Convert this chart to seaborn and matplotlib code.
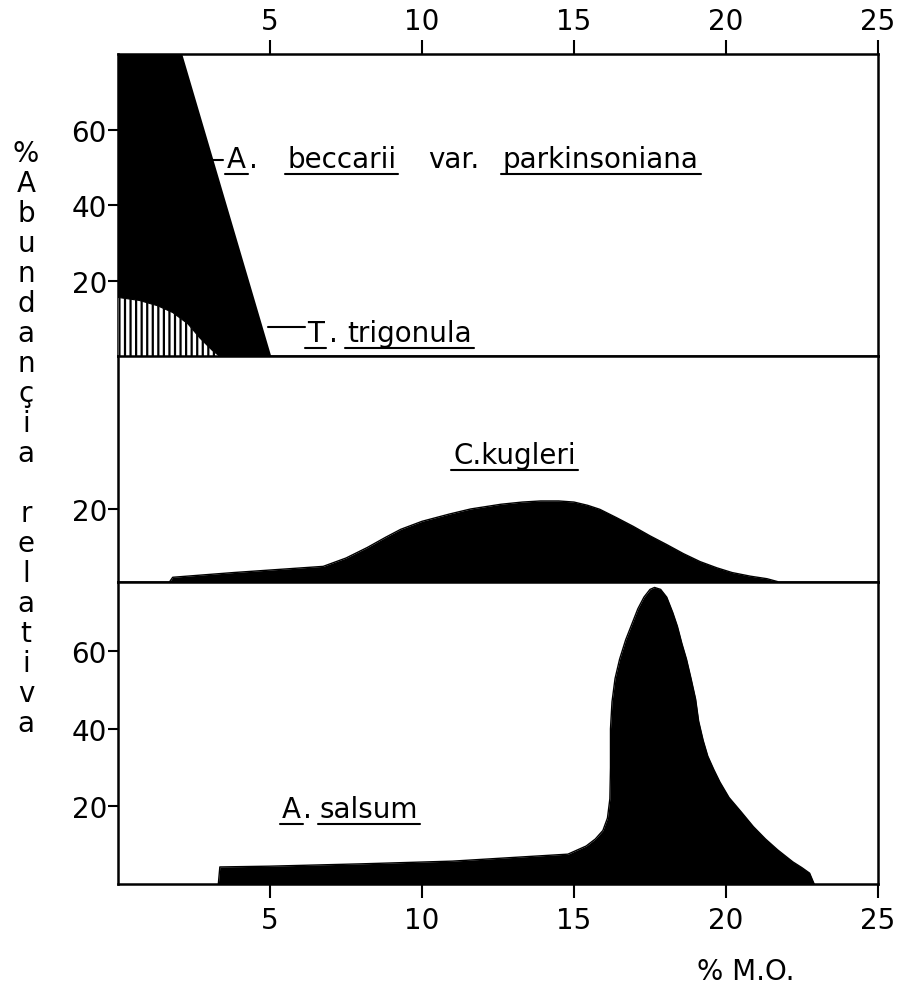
import matplotlib
matplotlib.use("Agg")
import matplotlib.pyplot as plt
from matplotlib.lines import Line2D
import seaborn as sns

sns.set_style("ticks", {'text.color': 'black', 'axes.labelcolor': 'black',
                        'xtick.color': 'black', 'ytick.color': 'black',
                        'axes.edgecolor': 'black'})
plt.rcParams['font.family'] = ['DejaVu Sans']
plt.rcParams['hatch.linewidth'] = 1.6

# A. beccarii var. parkinsoniana (top panel, runs off the top of the frame)
becc_x = [0.0, 2.1, 5.03]
becc_y = [80.0, 80.0, 0.0]

# T. trigonula (hatched, top panel)
trig_x = [0.0, 0.7, 1.3, 1.8, 2.3, 2.7, 3.1, 3.35]
trig_y = [15.6, 14.8, 13.4, 11.6, 8.6, 4.8, 1.6, 0.0]

# C. kugleri (middle panel)
kug_x = [1.7, 1.8, 3.8, 6.75, 7.5, 8.2, 8.8, 9.3, 10.0, 10.9, 11.6, 12.6,
         13.3, 13.9, 14.5, 15.0, 15.45, 15.85, 16.4, 16.95, 17.5, 18.05,
         18.6, 19.15, 19.7, 20.2, 20.8, 21.35, 21.7]
kug_y = [0.0, 1.2, 2.5, 4.2, 6.5, 9.4, 12.2, 14.4, 16.6, 18.6, 20.0, 21.3,
         21.9, 22.2, 22.2, 21.9, 21.0, 19.9, 17.6, 15.2, 12.6, 10.2,
         7.7, 5.5, 3.8, 2.5, 1.5, 0.8, 0.0]

# A. salsum (bottom panel)
sal_x = [3.3, 3.35, 5.0, 8.0, 11.0, 14.8, 15.4, 15.7, 15.95, 16.1, 16.18,
         16.2, 16.2, 16.25, 16.35, 16.5, 16.7, 16.9, 17.1, 17.3, 17.5, 17.65,
         17.85, 18.05, 18.25, 18.4, 18.55, 18.7, 18.85, 19.0, 19.1, 19.25,
         19.4, 19.6, 19.8, 20.1, 20.5, 20.9, 21.3, 21.7, 22.2, 22.5, 22.75,
         22.9]
sal_y = [0.0, 4.4, 4.6, 5.2, 5.9, 7.7, 9.8, 11.6, 13.8, 17.0, 22.0,
         30.0, 40.0, 47.0, 53.0, 58.0, 63.0, 67.0, 71.0, 74.0, 76.0, 76.5,
         76.0, 74.0, 70.0, 66.5, 62.0, 58.0, 53.0, 47.7, 42.0, 37.0,
         33.0, 29.5, 26.3, 22.3, 18.6, 14.8, 11.6, 8.8, 5.7, 4.2, 2.8,
         0.0]

x_ticks = [5, 10, 15, 20, 25]
x_ticklabels = ['5', '10', '15', '20', '25']
ylabel_chars = list("%Abundançia") + [' '] + list("relativa")

FS = 20

fig = plt.figure(figsize=(9.03, 9.87), dpi=100)
gs = fig.add_gridspec(3, 1, height_ratios=[302, 225, 302], hspace=0,
                      left=118 / 903, right=878 / 903,
                      top=1 - 55 / 987, bottom=1 - 885 / 987)
ax_top = fig.add_subplot(gs[0])
ax_mid = fig.add_subplot(gs[1])
ax_bot = fig.add_subplot(gs[2])

for ax in (ax_top, ax_mid, ax_bot):
    ax.set_xlim(0, 25)
    for sp in ax.spines.values():
        sp.set_visible(True)
        sp.set_linewidth(1.8)
        sp.set_color('black')
    ax.tick_params(axis='y', direction='out', length=7, width=1.5, pad=1,
                   labelsize=FS, left=True, right=False, colors='black')

# top panel
ax_top.fill_between(becc_x, becc_y, 0, color='black', lw=0, zorder=2)
ax_top.fill_between(trig_x, trig_y, 0, facecolor='white', edgecolor='black',
                    hatch='|||', lw=0, zorder=3)
sns.lineplot(x=trig_x, y=trig_y, ax=ax_top, color='black', lw=0.8,
             estimator=None, sort=False, zorder=4)
ax_top.set_ylim(0, 80)
ax_top.set_yticks([20, 40, 60])
ax_top.set_yticklabels(['20', '40', '60'])
ax_top.xaxis.tick_top()
ax_top.set_xticks(x_ticks)
ax_top.set_xticklabels(x_ticklabels)
ax_top.tick_params(axis='x', top=True, bottom=False, direction='out',
                   length=10, width=1.5, pad=4, labelsize=FS, colors='black')

# middle panel
ax_mid.fill_between(kug_x, kug_y, 0, color='black', lw=0)
sns.lineplot(x=kug_x, y=kug_y, ax=ax_mid, color='black', lw=1,
             estimator=None, sort=False)
ax_mid.set_ylim(0, 62)
ax_mid.set_yticks([20])
ax_mid.set_yticklabels(['20'])
ax_mid.set_xticks([])

# bottom panel
ax_bot.fill_between(sal_x, sal_y, 0, color='black', lw=0)
sns.lineplot(x=sal_x, y=sal_y, ax=ax_bot, color='black', lw=1,
             estimator=None, sort=False)
ax_bot.set_ylim(0, 78)
ax_bot.set_yticks([20, 40, 60])
ax_bot.set_yticklabels(['20', '40', '60'])
ax_bot.set_xticks(x_ticks)
ax_bot.set_xticklabels(x_ticklabels)
ax_bot.tick_params(axis='x', bottom=True, top=False, direction='out',
                   length=10, width=1.5, pad=6, labelsize=FS, colors='black')
for ax in (ax_top, ax_mid, ax_bot):
    ax.set_xlabel('')
    ax.set_ylabel('')

# species labels: (axes, text, x, y, underlined)
labels = [
    (ax_top, 'A', 3.59, 50.1, True),
    (ax_top, '.', 4.3, 50.1, False),
    (ax_top, 'beccarii', 5.56, 50.1, True),
    (ax_top, 'var.', 10.2, 50.1, False),
    (ax_top, 'parkinsoniana', 12.66, 50.1, True),
    (ax_top, 'T', 6.22, 4.0, True),
    (ax_top, '.', 6.95, 4.0, False),
    (ax_top, 'trigonula', 7.53, 4.0, True),
    (ax_mid, 'C.kugleri', 11.02, 32.7, True),
    (ax_bot, 'A', 5.39, 17.3, True),
    (ax_bot, '.', 6.1, 17.3, False),
    (ax_bot, 'salsum', 6.64, 17.3, True),
]
texts = []
for ax, s, x, y, ul in labels:
    t = ax.text(x, y, s, fontsize=FS, ha='left', va='baseline', zorder=5,
                color='black')
    texts.append((t, ul))

# leader dashes
ax_top.plot([3.12, 3.45], [51.9, 51.9], color='black', lw=1.5)
ax_top.plot([4.93, 6.15], [7.7, 7.7], color='black', lw=1.5)

# stacked y label
for i, ch in enumerate(ylabel_chars):
    fig.text(26 / 903, 1 - (162 + 30 * i) / 987, ch, fontsize=FS,
             ha='center', va='baseline', color='black')

fig.text(746 / 903, 1 - 980 / 987, '% M.O.', fontsize=FS,
         ha='center', va='baseline', color='black')

# underline the species names
fig.canvas.draw()
renderer = fig.canvas.get_renderer()
inv = fig.transFigure.inverted()
for t, ul in texts:
    if not ul:
        continue
    bb = t.get_window_extent(renderer)
    bx, by = t.get_transform().transform(t.get_position())
    (x0, yl), (x1, _) = inv.transform([(bb.x0 - 2, by - 7), (bb.x1 + 2, by - 7)])
    fig.add_artist(Line2D([x0, x1], [yl, yl], color='black', lw=1.5))

fig.savefig('out.png', dpi=100)
